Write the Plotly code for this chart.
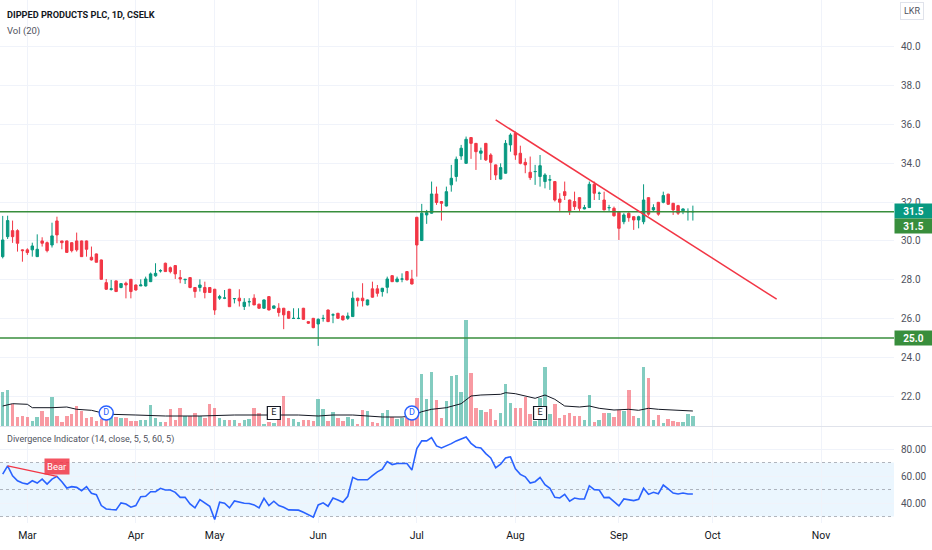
import plotly.graph_objects as go

# ---- data (daily bars, index 0 = last days of Feb) ----
opens = [29.19, 30.22, 30.53, 30.53, 29.54, 29.54, 29.54, 29.19, 30.00, 29.91,
         29.79, 31.03, 30.00, 30.00, 29.91, 30.00, 30.00, 30.00, 29.16, 29.33,
         29.02, 27.85, 27.50, 27.94, 27.60, 27.82, 28.02, 27.73, 27.68, 27.68,
         27.90, 28.20, 28.45, 28.85, 28.62, 28.73, 28.11, 28.00, 28.11, 27.60,
         27.60, 27.60, 27.60, 27.51, 27.05, 27.05, 27.51, 27.02, 27.05, 26.62,
         26.86, 27.05, 26.74, 26.53, 27.13, 26.53, 26.53, 26.53, 26.36, 26.00,
         26.00, 26.53, 25.84, 26.01, 25.72, 26.00, 26.44, 26.18, 26.27, 26.13,
         26.01, 26.10, 27.05, 27.05, 26.70, 27.53, 27.53, 27.39, 27.61, 28.21,
         27.90, 28.03, 28.42, 28.04, 31.22, 30.02, 31.34, 31.43, 32.42, 32.03,
         31.80, 32.89, 33.32, 34.38, 34.00, 35.33, 35.03, 34.52, 35.03, 34.43,
         33.92, 33.19, 33.49, 34.95, 35.55, 34.52, 34.05, 33.54, 33.57, 33.32,
         33.06, 33.14, 33.06, 32.16, 32.54, 32.11, 32.03, 32.23, 31.65, 31.72,
         32.92, 32.45, 32.11, 31.71, 31.68, 31.48, 30.99, 31.43, 31.25, 31.08,
         30.99, 32.23, 31.60, 31.99, 31.99, 32.41, 31.94, 31.82, 31.55, 31.50,
         31.50]
highs = [31.29, 31.30, 31.05, 30.60, 29.56, 29.62, 29.91, 30.34, 30.19, 29.97,
         30.94, 31.25, 30.00, 30.02, 29.93, 30.43, 30.02, 30.02, 29.71, 29.35,
         29.04, 28.04, 27.99, 27.96, 27.80, 27.90, 28.04, 27.75, 28.02, 28.16,
         28.37, 28.85, 28.54, 28.88, 28.68, 28.76, 28.50, 28.02, 28.13, 27.62,
         28.02, 27.90, 27.62, 27.53, 27.22, 27.47, 27.53, 27.04, 27.51, 27.05,
         27.05, 27.25, 26.76, 26.98, 27.15, 26.67, 26.79, 26.55, 26.40, 26.53,
         26.53, 26.55, 25.86, 26.03, 26.01, 26.19, 26.46, 26.27, 26.29, 26.15,
         26.31, 27.39, 27.07, 27.82, 26.98, 27.90, 27.73, 27.58, 28.16, 28.23,
         28.16, 28.33, 28.44, 28.51, 31.24, 31.91, 31.60, 33.06, 32.80, 32.05,
         32.80, 33.92, 34.35, 34.95, 35.38, 35.35, 35.05, 34.81, 35.05, 34.52,
         33.94, 34.00, 35.20, 35.55, 35.64, 34.91, 34.26, 34.35, 33.92, 34.43,
         33.49, 33.40, 33.08, 32.46, 33.06, 32.13, 32.54, 32.25, 31.86, 33.06,
         33.06, 32.54, 32.54, 31.86, 31.77, 31.50, 31.43, 31.48, 31.27, 31.30,
         32.92, 32.25, 31.89, 32.01, 32.54, 32.43, 31.96, 31.86, 31.68, 31.68,
         31.82]
lows = [29.10, 30.10, 29.90, 29.45, 28.93, 29.28, 29.19, 29.19, 29.71, 29.41,
        29.66, 29.88, 29.57, 29.41, 29.41, 29.45, 29.19, 29.19, 28.99, 28.90,
        28.02, 27.47, 27.44, 27.39, 27.56, 27.04, 27.04, 27.44, 27.68, 27.65,
        27.88, 28.16, 28.37, 28.42, 28.33, 28.04, 27.82, 27.78, 27.56, 27.07,
        27.39, 27.04, 27.32, 26.19, 26.96, 27.00, 26.61, 26.78, 26.62, 26.44,
        26.62, 26.70, 26.50, 26.50, 26.42, 26.50, 26.10, 25.45, 25.98, 25.98,
        25.97, 25.93, 25.72, 25.50, 24.59, 25.84, 25.82, 25.76, 25.99, 25.90,
        25.93, 26.08, 26.62, 26.62, 26.68, 27.08, 27.13, 27.13, 27.30, 27.88,
        27.87, 27.87, 27.97, 27.76, 28.16, 30.00, 30.88, 31.41, 31.86, 31.05,
        31.78, 32.54, 33.06, 34.18, 33.98, 34.23, 33.66, 34.18, 34.12, 33.14,
        33.14, 33.17, 33.47, 34.60, 34.18, 33.95, 33.49, 33.14, 32.89, 32.80,
        32.71, 32.63, 32.03, 31.55, 32.11, 31.34, 31.60, 31.55, 31.63, 31.70,
        32.11, 32.11, 31.58, 31.55, 31.25, 30.05, 30.86, 30.99, 30.57, 30.65,
        30.86, 31.30, 31.55, 31.30, 31.94, 31.86, 31.34, 31.34, 31.38, 31.05,
        31.05]
closes = [30.05, 31.05, 30.22, 29.88, 29.50, 29.40, 29.74, 29.57, 29.88, 29.50,
          30.26, 30.31, 29.91, 29.41, 29.50, 29.54, 29.19, 29.57, 29.02, 28.90,
          28.02, 27.51, 27.53, 27.39, 27.80, 27.73, 27.39, 27.47, 27.73, 28.04,
          28.30, 28.33, 28.47, 28.42, 28.42, 28.30, 28.04, 28.02, 27.60, 27.39,
          27.73, 27.34, 27.34, 26.44, 27.13, 27.06, 26.61, 27.03, 26.91, 26.84,
          26.87, 26.70, 26.53, 26.96, 26.44, 26.65, 26.31, 26.19, 26.01, 26.01,
          26.01, 25.96, 25.76, 25.53, 25.96, 26.01, 25.84, 26.19, 26.01, 25.93,
          26.13, 27.05, 26.92, 26.92, 26.96, 27.10, 27.30, 27.56, 28.04, 27.90,
          28.04, 28.04, 27.99, 27.78, 29.79, 31.43, 31.46, 32.42, 31.98, 31.94,
          32.54, 33.23, 34.21, 34.78, 35.24, 35.03, 34.60, 34.64, 34.18, 34.05,
          33.40, 33.78, 35.03, 35.46, 34.43, 34.00, 33.92, 33.26, 33.58, 33.88,
          33.40, 33.15, 32.11, 31.99, 32.34, 31.51, 31.77, 31.68, 31.72, 32.92,
          32.46, 32.46, 31.60, 31.72, 31.30, 30.65, 31.34, 31.20, 31.08, 31.25,
          32.11, 31.38, 31.72, 31.38, 32.34, 31.89, 31.60, 31.43, 31.65, 31.52,
          31.52]
volume_k = [34, 35.7, 21.7, 9, 10, 9, 5, 9, 15, 9,
            29, 10, 4, 10, 11.7, 20, 15, 7.7, 9, 5,
            6.7, 8, 10, 9, 7.7, 8.3, 5, 5, 5.7, 5.7,
            21, 7.7, 4.3, 4.3, 16.7, 5.7, 18.3, 10, 10, 13.3,
            10, 7.7, 21.7, 18.3, 8.3, 6, 6, 5.7, 3.3, 5.7,
            6.7, 18.3, 13.3, 2.3, 4, 3.3, 5.7, 30, 8.3, 6.7,
            4.3, 5.7, 6, 5, 26.7, 16.7, 5, 14, 7.7, 5,
            9, 6.7, 2.3, 15.7, 15, 4.3, 3.3, 13.3, 16, 9,
            6.7, 8.3, 10, 8, 27.7, 51.7, 26.7, 54.3, 25.7, 8.3,
            25, 50, 51, 34.3, 106, 52.7, 17.7, 16, 14, 16.7,
            5.7, 13.3, 41.7, 23.3, 17.7, 17.7, 29, 12.3, 5, 28,
            59, 11.7, 22.3, 7.7, 11, 13.3, 10, 10, 6, 30.7,
            4.3, 5.7, 13.3, 12.7, 9.3, 16, 15, 35.7, 10, 8.3,
            59, 47.7, 5.7, 10.7, 3.3, 6.7, 5, 4.3, 4.3, 11.7,
            10]
# Vol(20) moving average, read at a few bars
vol_ma_idx = [0, 2, 5, 6, 10, 13, 15, 18, 20, 22, 27, 33, 40, 47, 54, 60, 64, 67,
              71, 74, 77, 81, 83, 85, 87, 90, 93, 95, 97, 101, 102, 104, 106, 108,
              110, 112, 114, 117, 119, 121, 124, 127, 129, 131, 133, 136, 140]
vol_ma = [20, 22.3, 21.7, 18.3, 18.3, 19, 16.7, 15.7, 13.3, 11.7, 11, 10, 10, 11,
          11, 11, 10, 11, 11, 10, 9, 9, 10, 14.3, 16.7, 18.3, 22.3, 30, 31, 31.7,
          33.3, 32.3, 30, 27.7, 31, 26.7, 20, 19, 20, 17.7, 16, 16.7, 15.7, 17.7,
          16.7, 16, 15]
rsi = [61.4, 67.5, 60.2, 56.5, 54.8, 54.0, 56.5, 54.8, 57.7, 54.0,
       57.7, 59.7, 55.8, 51.1, 52.1, 51.6, 49.1, 52.1, 47.2, 46.2,
       38.1, 35.6, 35.2, 34.9, 40.1, 39.3, 36.9, 38.1, 44.7, 45.0,
       48.4, 48.4, 50.9, 49.6, 49.6, 47.9, 44.2, 44.2, 39.3, 36.4,
       42.5, 40.1, 37.6, 27.8, 40.6, 39.8, 36.4, 41.5, 40.6, 39.8,
       39.6, 38.6, 36.4, 43.5, 38.1, 41.3, 38.1, 36.9, 34.9, 34.9,
       34.7, 33.2, 31.2, 29.5, 38.6, 40.1, 37.6, 43.7, 42.3, 40.6,
       45.0, 59.0, 57.2, 57.2, 57.2, 60.2, 63.1, 65.1, 70.7, 68.5,
       69.3, 69.3, 69.3, 64.4, 80.3, 86.0, 86.0, 88.4, 82.3, 80.8,
       82.3, 84.0, 86.0, 87.7, 88.9, 84.2, 81.3, 80.8, 76.6, 73.4,
       66.1, 68.8, 73.4, 74.2, 65.3, 61.2, 59.4, 54.8, 55.8, 59.0,
       53.6, 50.9, 44.2, 43.7, 46.4, 41.3, 43.7, 43.0, 43.0, 52.8,
       49.9, 49.6, 44.0, 44.2, 40.8, 37.9, 43.0, 42.5, 41.8, 42.8,
       50.9, 46.4, 47.9, 46.9, 53.3, 50.4, 47.4, 46.7, 47.4, 46.7,
       46.7]
month_idx = [5, 27, 43, 64, 84, 104, 125, 144, 166]
month_names = ["Mar", "Apr", "May", "Jun", "Jul", "Aug", "Sep", "Oct", "Nov"]
dividend_idx = [21, 83]
earnings_idx = [55, 109]
support_levels = [31.5, 25.0]
trend_start = (100, 36.24)
trend_end = (157, 27.0)
bear_from = 1
bear_to = 11

bars = list(range(len(closes)))

GREEN = "#089981"
RED = "#f23645"
LEVEL = "#388e3c"
GRID = "#f0f3fa"
TXT = "#131722"
FONT = "Roboto"

vol_colors = ["rgba(8,153,129,0.5)" if c >= o else "rgba(242,54,69,0.5)"
              for o, c in zip(opens, closes)]

fig = go.Figure()

fig.add_trace(go.Candlestick(
    x=bars, open=opens, high=highs, low=lows, close=closes,
    increasing=dict(line=dict(color=GREEN, width=1), fillcolor=GREEN),
    decreasing=dict(line=dict(color=RED, width=1), fillcolor=RED),
    whiskerwidth=0, xaxis="x", yaxis="y", showlegend=False))

fig.add_trace(go.Bar(x=bars, y=volume_k, marker=dict(color=vol_colors, line_width=0),
                     width=0.7, xaxis="x", yaxis="y2", showlegend=False))
fig.add_trace(go.Scatter(x=vol_ma_idx, y=vol_ma, mode="lines",
                         line=dict(color="#131722", width=1),
                         xaxis="x", yaxis="y2", showlegend=False))

# dividend / earnings flags on the volume pane
fig.add_trace(go.Scatter(
    x=dividend_idx, y=[13] * len(dividend_idx), mode="markers+text", text=["D"] * len(dividend_idx),
    textfont=dict(family=FONT, size=9, color="#2962ff"),
    marker=dict(symbol="circle", size=14, color="white", line=dict(color="#2962ff", width=1.5)),
    xaxis="x", yaxis="y2", showlegend=False))
fig.add_trace(go.Scatter(
    x=earnings_idx, y=[13] * len(earnings_idx), mode="markers+text", text=["E"] * len(earnings_idx),
    textfont=dict(family=FONT, size=9, color=TXT),
    marker=dict(symbol="square", size=13, color="white", line=dict(color=TXT, width=1.2)),
    xaxis="x", yaxis="y2", showlegend=False))

# divergence indicator pane
fig.add_trace(go.Scatter(x=bars, y=rsi, mode="lines", line=dict(color="#2962ff", width=1.6),
                         xaxis="x2", yaxis="y3", showlegend=False))
fig.add_trace(go.Scatter(x=[bear_from, bear_to], y=[rsi[bear_from], rsi[bear_to]], mode="lines",
                         line=dict(color=RED, width=1.3), xaxis="x2", yaxis="y3", showlegend=False))

shapes = []
for lv in support_levels:
    shapes.append(dict(type="line", xref="paper", x0=0, x1=1, yref="y", y0=lv, y1=lv,
                       line=dict(color=LEVEL, width=1.5), layer="above"))
shapes.append(dict(type="line", xref="x", x0=trend_start[0], x1=trend_end[0], yref="y",
                   y0=trend_start[1], y1=trend_end[1], line=dict(color=RED, width=1.5), layer="above"))
shapes.append(dict(type="rect", xref="paper", x0=0, x1=1, yref="y3", y0=30, y1=70,
                   fillcolor="rgba(33,150,243,0.09)", line_width=0, layer="below"))
for lv in [70, 50, 30]:
    shapes.append(dict(type="line", xref="paper", x0=0, x1=1, yref="y3", y0=lv, y1=lv,
                       line=dict(color="rgba(120,123,134,0.55)", width=1, dash="dot"), layer="below"))
shapes.append(dict(type="line", xref="paper", x0=0, x1=1.05, yref="paper", y0=0.1845, y1=0.1845,
                   line=dict(color="#e0e3eb", width=1)))

annotations = [
    dict(text="<b>DIPPED PRODUCTS PLC, 1D, CSELK</b>", xref="paper", yref="paper", x=0.0056, y=0.9732,
         xanchor="left", yanchor="middle", showarrow=False, font=dict(family=FONT, size=9.2, color=TXT)),
    dict(text="Vol (20)", xref="paper", yref="paper", x=0.0056, y=0.9407,
         xanchor="left", yanchor="middle", showarrow=False, font=dict(family=FONT, size=9.5, color="#50535e")),
    dict(text="Divergence Indicator (14, close, 5, 5, 60, 5)", xref="paper", yref="paper", x=0.0056, y=0.1606,
         xanchor="left", yanchor="middle", showarrow=False, font=dict(family=FONT, size=9, color="#50535e")),
    dict(text="LKR", xref="paper", yref="paper", x=1.0201, y=0.979, xanchor="center", yanchor="middle",
         showarrow=False, font=dict(family=FONT, size=9, color="#50535e"),
         bordercolor="#e0e3eb", borderwidth=1, borderpad=3, bgcolor="white"),
    dict(text="Bear", xref="x2", yref="y3", x=bear_to, y=rsi[bear_to], xanchor="center", yanchor="bottom",
         yshift=1, showarrow=False, font=dict(family=FONT, size=9.5, color="white"),
         bgcolor="rgba(242,54,69,0.85)", borderpad=2),
    dict(text="<b>%.1f</b>" % closes[-1], xref="paper", yref="y", x=1, y=closes[-1], xanchor="left",
         yanchor="middle", showarrow=False, font=dict(family=FONT, size=10, color="white"),
         bgcolor=GREEN, width=35, height=12, borderpad=1),
]
for lv, shift in zip(support_levels, [-14, 0]):
    annotations.append(dict(text="<b>%.1f</b>" % lv, xref="paper", yref="y", x=1, y=lv, xanchor="left",
                            yanchor="middle", yshift=shift, showarrow=False,
                            font=dict(family=FONT, size=10, color="white"),
                            bgcolor=LEVEL, width=35, height=12, borderpad=1))

fig.update_layout(
    width=932, height=550,
    margin=dict(l=0, r=38, t=0, b=27),
    paper_bgcolor="white", plot_bgcolor="white",
    font=dict(family=FONT, size=10, color=TXT),
    showlegend=False,
    bargap=0,
    xaxis=dict(domain=[0, 1], anchor="y", range=[-0.55, 180.8], tickvals=month_idx,
               showticklabels=False, showgrid=True, gridcolor=GRID, zeroline=False,
               rangeslider=dict(visible=False), fixedrange=True),
    xaxis2=dict(domain=[0, 1], anchor="y3", matches="x", range=[-0.55, 180.8], tickvals=month_idx,
                ticktext=month_names, showgrid=True, gridcolor=GRID, zeroline=False,
                tickfont=dict(family=FONT, size=10.5, color=TXT), ticklabelstandoff=4),
    yaxis=dict(domain=[0.18547, 1], anchor="x", side="right", range=[20.46, 42.42],
               tickvals=[22, 24, 26, 28, 30, 32, 34, 36, 38, 40], tickformat=".1f",
               showgrid=True, gridcolor=GRID, zeroline=False, ticklabelstandoff=6,
               tickfont=dict(family=FONT, size=10, color="#50535e")),
    yaxis2=dict(overlaying="y", anchor="x", range=[0, 426], visible=False),
    yaxis3=dict(domain=[0, 0.18356], anchor="x2", side="right", range=[25.2, 96.3],
                tickvals=[40, 60, 80], tickformat=".2f", showgrid=True, gridcolor=GRID,
                zeroline=False, ticklabelstandoff=6,
                tickfont=dict(family=FONT, size=10, color="#50535e")),
    shapes=shapes,
    annotations=annotations,
)

fig.write_html("out.html", config={"displayModeBar": False},
               post_script="document.body.style.margin='0px';")
